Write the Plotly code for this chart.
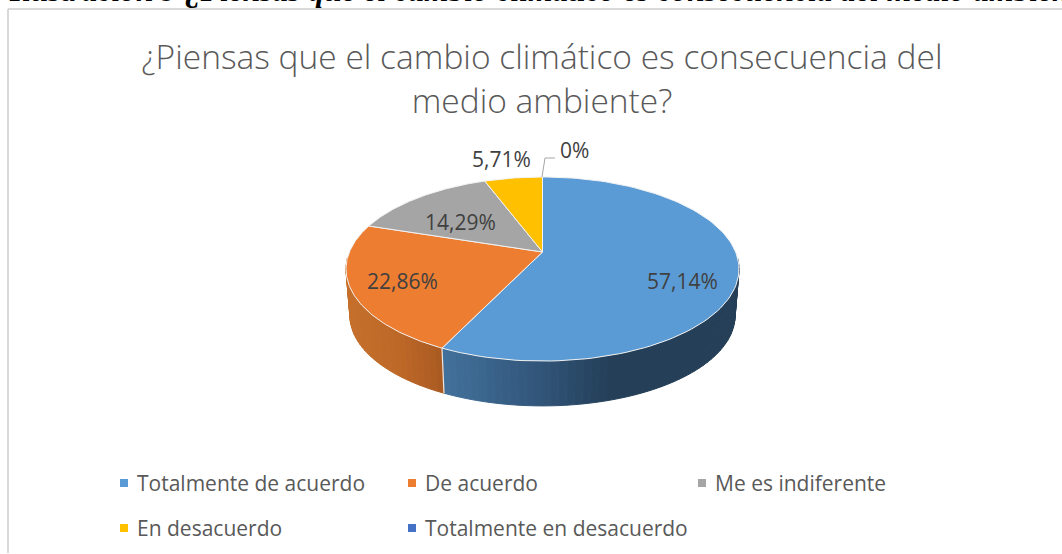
"""3D-look pie chart with perspective, drawn as filled scatter wedges."""

from __future__ import annotations

import numpy as np
import plotly.graph_objects as go

HEADER = "Ilustración 9 ¿Piensas que el cambio climático es consecuencia del medio ambiente?"
TITLE = "¿Piensas que el cambio climático es consecuencia del<br>medio ambiente?"

categories = [
    "Totalmente de acuerdo",
    "De acuerdo",
    "Me es indiferente",
    "En desacuerdo",
    "Totalmente en desacuerdo",
]
values = [57.14, 22.86, 14.29, 5.71, 0]
value_labels = ["57,14%", "22,86%", "14,29%", "5,71%", "0%"]
colors = ["#5B9BD5", "#ED7D31", "#A5A5A5", "#FFC000", "#4472C4"]

FONT = "Open Sans"
INK = "#595959"
LABEL_INK = "#404040"

# projection of the unit disc, fitted to the picture
CX, CY = 542.5, 252.0
RADIUS, DEPTH_A, DEPTH_C = 193.1, 88.9, 0.185
WALL_DROP, WALL_SCALE = 47.0, 0.98


def project(theta, bottom=False):
    """Map clockwise-from-top angle (degrees) to pixel x, y."""
    t = np.radians(theta)
    w = 1 + DEPTH_C * np.cos(t)
    x = RADIUS * np.sin(t) / w
    y = DEPTH_A * np.cos(t) / w
    if bottom:
        return CX + x * WALL_SCALE, CY - y * WALL_SCALE + WALL_DROP
    return CX + x, CY - y


def mix(stops, x):
    """Colour along a horizontal gradient of (x, (r, g, b)) stops."""
    xs = [s[0] for s in stops]
    rgb = [np.interp(x, xs, [s[1][i] for s in stops]) for i in range(3)]
    return "rgb(%d,%d,%d)" % tuple(rgb)


edges = np.concatenate([[0], np.cumsum(values)]) * 3.6 / (sum(values) / 100)
WALL_STOPS = {
    0: [(444, (66, 113, 155)), (540, (50, 85, 122)), (613, (36, 63, 87)), (740, (36, 63, 87))],
    1: [(346, (198, 112, 44)), (400, (190, 104, 40)), (444, (168, 90, 34))],
}

fig = go.Figure()

# side wall as thin strips, only the front part shows
for i, (start, end) in enumerate(zip(edges[:-1], edges[1:])):
    if i not in WALL_STOPS:
        continue
    lo, hi = max(start, 94), min(end, 266)
    steps = np.arange(lo, hi, 2.0)
    for a in steps:
        b = min(a + 2.0, hi)
        x0, y0 = project(a)
        x1, y1 = project(b)
        x2, y2 = project(b, True)
        x3, y3 = project(a, True)
        col = mix(WALL_STOPS[i], (x0 + x1) / 2)
        fig.add_trace(
            go.Scatter(
                x=[x0, x1, x2, x3, x0],
                y=[y0, y1, y2, y3, y0],
                mode="lines",
                fill="toself",
                fillcolor=col,
                line=dict(color=col, width=1),
                hoverinfo="skip",
                showlegend=False,
            )
        )

# seam on the wall between blue and orange
xa, ya = project(edges[1])
xb, yb = project(edges[1], True)
fig.add_trace(
    go.Scatter(
        x=[xa, xb],
        y=[ya, yb],
        mode="lines",
        line=dict(color="#e8e8e8", width=1.2),
        hoverinfo="skip",
        showlegend=False,
    )
)

# top face wedges
for i, (start, end) in enumerate(zip(edges[:-1], edges[1:])):
    if end <= start:
        continue
    rim = np.linspace(start, end, 120)
    xs, ys = project(rim)
    fig.add_trace(
        go.Scatter(
            x=[CX, *xs, CX],
            y=[CY, *ys, CY],
            mode="lines",
            fill="toself",
            fillcolor=colors[i],
            line=dict(color="#f2f2f2", width=1),
            name=categories[i],
            hoverinfo="name",
            showlegend=False,
        )
    )

# data labels
label_pos = [(682, 281), (402, 281), (460, 222), (501, 159), (574, 150)]
for text, (lx, ly) in zip(value_labels, label_pos):
    fig.add_annotation(
        x=lx,
        y=ly,
        text=text,
        showarrow=False,
        font=dict(family=FONT, size=21, color=LABEL_INK),
    )

# leader line of the 0% label
fig.add_shape(
    type="path",
    path="M 542 177 L 545 158 L 555 158",
    line=dict(color="#a6a6a6", width=1),
)

# legend, two rows in three columns
legend_pos = [(124, 483), (412, 483), (702, 483), (124, 528), (412, 528)]
for name, color, (lx, ly) in zip(categories, colors, legend_pos):
    fig.add_shape(
        type="rect",
        x0=lx - 4,
        x1=lx + 4,
        y0=ly - 4,
        y1=ly + 4,
        fillcolor=color,
        line_width=0,
    )
    fig.add_annotation(
        x=lx + 11,
        y=ly,
        text=name,
        xanchor="left",
        showarrow=False,
        font=dict(family=FONT, size=21, color=INK),
    )

# chart frame, only the top and left edges are in view
fig.add_shape(type="line", x0=8, x1=8, y0=9, y1=553, line=dict(color="#d9d9d9", width=2))
fig.add_shape(type="line", x0=8, x1=1062, y0=9, y1=9, line=dict(color="#d9d9d9", width=2))

# caption of the page, cut off by the top of the picture
fig.add_annotation(
    x=7,
    y=10.5,
    text="<b><i>" + HEADER + "</i></b>",
    xanchor="left",
    yanchor="bottom",
    showarrow=False,
    font=dict(family="Liberation Serif", size=31.5, color="#000000"),
)

fig.update_xaxes(range=[0, 1062], visible=False, fixedrange=True)
fig.update_yaxes(range=[554, 0], visible=False, fixedrange=True)
fig.update_layout(
    title=dict(
        text=TITLE,
        x=542 / 1062,
        xanchor="center",
        y=1 - 69 / 554,
        yanchor="top",
        font=dict(family=FONT, size=33.5, color=INK, weight=300),
    ),
    width=1062,
    height=554,
    margin=dict(l=0, r=0, t=0, b=0),
    paper_bgcolor="white",
    plot_bgcolor="white",
    showlegend=False,
)

# the page's default body margin would push the figure out of the window
fig.write_html(
    "out.html",
    config=dict(displayModeBar=False),
    post_script="document.body.style.margin='0';",
)
